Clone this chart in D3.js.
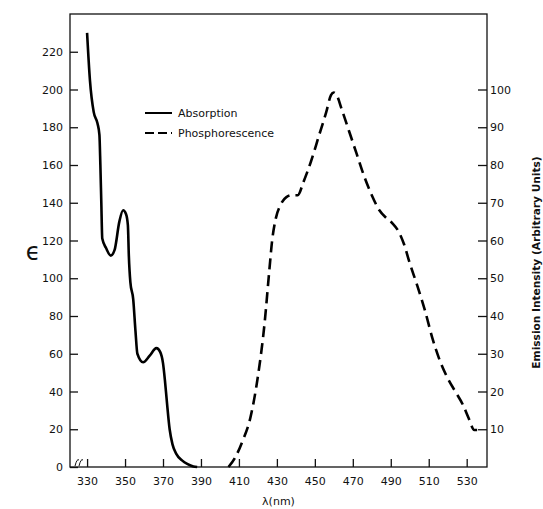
<!DOCTYPE html>
<html>
<head>
<meta charset="utf-8">
<script src="https://cdn.jsdelivr.net/npm/d3@7"></script>
<style>
  body { margin: 0; background: #fff; }
  text { font-family: "DejaVu Sans", sans-serif; fill: #111; }
</style>
</head>
<body>
<div id="my_dataviz"></div>
<script>
// absorption spectrum (left axis, epsilon)
var absWavelength = [330, 331.5, 333.5, 335.5, 336.5, 337, 337.5, 338, 340, 342.5, 344.5, 347, 349, 350.5, 351.5, 352, 352.8, 354.3, 355.5, 356.5, 359.5, 363, 366.5, 368.5, 370, 371, 372, 373.5, 375, 377, 380, 383, 386, 388]
var absEpsilon = [230, 205, 188, 182, 176, 160, 140, 121, 116, 112, 115, 130, 136, 134, 128, 112, 98, 89, 72, 60, 55.5, 59, 63, 61, 55, 46, 35, 20, 12, 7, 3.5, 1.5, 0.3, 0]

// phosphorescence spectrum (right axis, arbitrary units)
var phosWavelength = [404.5, 408, 412, 416, 420, 423.5, 426, 427.5, 429.5, 432, 435, 438, 441, 444, 448, 452, 456, 458.5, 460, 461.5, 464, 468, 472, 476, 480, 484, 488, 491, 494, 497, 500, 504, 508, 512, 516, 520, 524, 528, 531, 534, 535.5]
var phosIntensity = [0, 2.5, 7, 13, 24, 38, 52, 60, 66, 69.5, 71.5, 72, 72, 75.5, 81, 87.5, 94, 98.5, 99.2, 98.5, 95, 89, 83, 77, 72, 68, 65.8, 64.5, 62.5, 59, 54, 48, 41.5, 34, 28, 23.5, 20, 16.5, 13, 9.8, 9.8]

// tick labels
var xTicks = [330, 350, 370, 390, 410, 430, 450, 470, 490, 510, 530]
var leftTicks = [0, 20, 40, 60, 80, 100, 120, 140, 160, 180, 200, 220]
var rightTicks = [10, 20, 30, 40, 50, 60, 70, 80, 90, 100]

var legendNames = ["Absorption", "Phosphorescence"]

var width = 543
    height = 509
    margin = {top: 14, right: 56, bottom: 42, left: 70}

var innerW = width - margin.left - margin.right
var innerH = height - margin.top - margin.bottom

var svg = d3.select("#my_dataviz")
  .append("svg")
    .attr("width", width)
    .attr("height", height)
  .append("g")
    .attr("transform", "translate(" + margin.left + "," + margin.top + ")");

// scales
var x = d3.scaleLinear().domain([321, 540.7]).range([0, innerW])
var yLeft = d3.scaleLinear().domain([0, 240]).range([innerH, 0])
var yRight = d3.scaleLinear().domain([0, 120]).range([innerH, 0])

// frame
svg.append("rect")
  .attr("width", innerW)
  .attr("height", innerH)
  .attr("fill", "none")
  .attr("stroke", "#111")
  .attr("stroke-width", 1.3)

// axes, ticks pointing inside
var xAxis = svg.append("g")
  .attr("transform", "translate(0," + innerH + ")")
  .call(d3.axisBottom(x).tickValues(xTicks).tickSize(-8).tickPadding(10))
var leftAxis = svg.append("g")
  .call(d3.axisLeft(yLeft).tickValues(leftTicks).tickSize(-8).tickPadding(7))
var rightAxis = svg.append("g")
  .attr("transform", "translate(" + innerW + ",0)")
  .call(d3.axisRight(yRight).tickValues(rightTicks).tickSize(-9).tickPadding(3))

;[xAxis, leftAxis, rightAxis].forEach(function(a) {
  a.select(".domain").remove()
  a.selectAll(".tick line").attr("stroke", "#111").attr("stroke-width", 1.3)
  a.selectAll(".tick text").style("font-size", "11px").attr("fill", "#111")
})

// little axis break mark near the origin
svg.append("path")
  .attr("d", "M5," + (innerH - 1) + " q2,-8 4,-6 M9," + (innerH - 1) + " q2,-8 4,-6")
  .attr("fill", "none")
  .attr("stroke", "#111")
  .attr("stroke-width", 1)

// lines
var absLine = d3.line()
  .x(function(d, i) { return x(absWavelength[i]) })
  .y(function(d) { return yLeft(d) })
  .curve(d3.curveMonotoneX)

var phosLine = d3.line()
  .x(function(d, i) { return x(phosWavelength[i]) })
  .y(function(d) { return yRight(d) })
  .curve(d3.curveMonotoneX)

svg.append("path")
  .datum(absEpsilon)
  .attr("d", absLine)
  .attr("fill", "none")
  .attr("stroke", "#000")
  .attr("stroke-width", 2.6)
  .attr("stroke-linejoin", "round")

svg.append("path")
  .datum(phosIntensity)
  .attr("d", phosLine)
  .attr("fill", "none")
  .attr("stroke", "#000")
  .attr("stroke-width", 2.6)
  .attr("stroke-dasharray", "11,6")

// legend
var legend = svg.append("g").attr("transform", "translate(75,99)")
legend.selectAll("line")
  .data(legendNames)
  .enter()
  .append("line")
    .attr("x1", 0)
    .attr("x2", 27)
    .attr("y1", function(d, i) { return i * 20 })
    .attr("y2", function(d, i) { return i * 20 })
    .attr("stroke", "#000")
    .attr("stroke-width", 2)
    .attr("stroke-dasharray", function(d, i) { return i == 0 ? null : "9,4" })
legend.selectAll("text")
  .data(legendNames)
  .enter()
  .append("text")
    .attr("x", 33)
    .attr("y", function(d, i) { return i * 20 })
    .attr("dy", "0.35em")
    .style("font-size", "11px")
    .text(function(d) { return d })

// axis titles
svg.append("text")
  .attr("x", innerW / 2)
  .attr("y", innerH + 38)
  .attr("text-anchor", "middle")
  .style("font-size", "11px")
  .text("λ(nm)")

svg.append("text")
  .attr("x", -37)
  .attr("y", 246)
  .attr("text-anchor", "middle")
  .style("font-size", "24px")
  .text("ϵ")

svg.append("text")
  .attr("transform", "translate(" + (innerW + 53) + "," + (innerH / 2 + 22) + ") rotate(-90)")
  .attr("text-anchor", "middle")
  .style("font-size", "10.6px")
  .style("font-weight", "bold")
  .text("Emission Intensity (Arbitrary Units)")
</script>
</body>
</html>
